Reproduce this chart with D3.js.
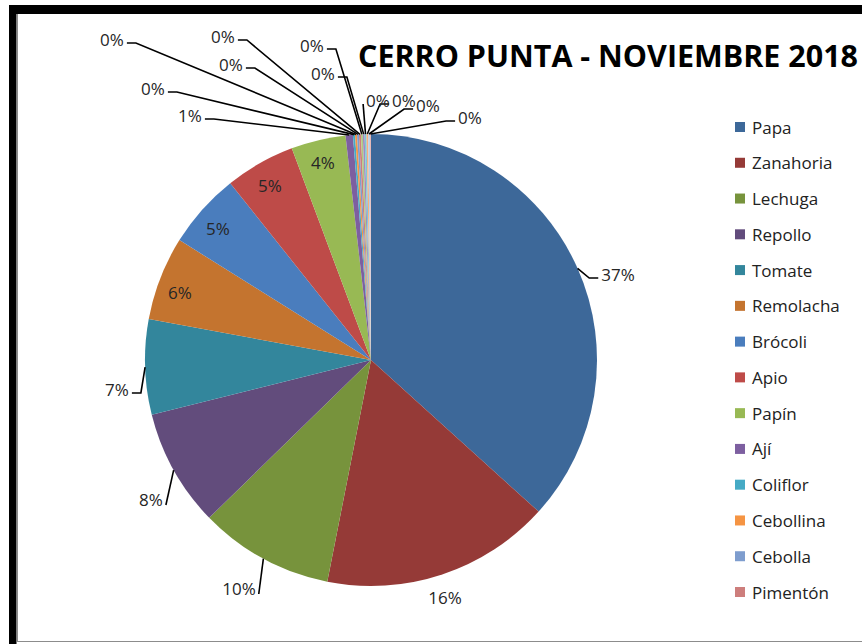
<!DOCTYPE html>
<html>
<head>
<meta charset="utf-8">
<script src="https://cdn.jsdelivr.net/npm/d3@7"></script>
<style>
  html, body { margin: 0; padding: 0; background: #fff; }
  svg { display: block; }
</style>
</head>
<body>
<svg id="chart" width="862" height="644"></svg>
<script>
// ---- data ----
const title = "CERRO PUNTA - NOVIEMBRE 2018";
// The reference legend is truncated after "Pimentón"; the remaining six tiny slices are unnamed there.
const categories = ["Papa", "Zanahoria", "Lechuga", "Repollo", "Tomate", "Remolacha", "Brócoli",
  "Apio", "Papín", "Ají", "Coliflor", "Cebollina", "Cebolla", "Pimentón",
  "Otro 1", "Otro 2", "Otro 3", "Otro 4", "Otro 5", "Otro 6"];
const values = [36.7, 16.4, 9.6, 8.4, 6.8, 6.0, 5.4, 5.0, 3.9, 0.52,
  0.15, 0.14, 0.14, 0.14, 0.13, 0.13, 0.13, 0.12, 0.12, 0.08];
const legendCount = 14; // entries visible in the reference legend

// ---- styles / layout ----
const colors = ["#3D6899", "#953A37", "#77933C", "#624C7C", "#33869C", "#C4742F", "#4A7DBD",
  "#BE4B48", "#98B954", "#7D5FA0", "#46AAC5", "#F59443", "#7E9DCE", "#CD7E7C",
  "#B0C97F", "#A08DC0", "#7EC6D9", "#F9B07C", "#B9CDE5", "#E6B9B8"];
// label centre offsets from pie centre (Excel's hand-spread labels)
const labelOffsets = [[247,-86],[74,237],[-132,228],[-220,139],[-254,29],[-191,-68],[-153,-132],
  [-101,-175],[-48,-198],[-181,-245],[-218,-272],[-259,-321],[-140,-296],[-148,-324],
  [-59,-315],[-48,-287],[7,-260],[33,-260],[57,-255],[99,-243]];
const leaderKinds = ["elbow","none","direct","direct","elbow","none","none","none","none","elbow",
  "elbow","elbow","elbow","elbow","elbow","elbow","direct","elbow","elbow","elbow"];

const W = 862, H = 644;
const cx = 371, cy = 360, R = 226;
const svg = d3.select("#chart");
const fontFam = "'Open Sans', 'DejaVu Sans', sans-serif";

// background + frame
svg.append("rect").attr("width", W).attr("height", H).attr("fill", "#fff");
svg.append("line").attr("x1", 17.5).attr("x2", 17.5).attr("y1", 14).attr("y2", 642)
  .attr("stroke", "#8c8c8c").attr("stroke-width", 1);
svg.append("line").attr("x1", 17).attr("x2", W).attr("y1", 641.5).attr("y2", 641.5)
  .attr("stroke", "#8c8c8c").attr("stroke-width", 1);
svg.append("rect").attr("x", 9).attr("y", 5).attr("width", W - 9).attr("height", 9).attr("fill", "#000");
svg.append("rect").attr("x", 9).attr("y", 5).attr("width", 7.5).attr("height", H - 5).attr("fill", "#000");

const data = categories.map((c, i) => ({ name: c, value: values[i], color: colors[i], i }));
const total = d3.sum(values);
const pct = d3.format(".0%");

const pie = d3.pie().sort(null).value(d => d.value).startAngle(0).endAngle(2 * Math.PI);
const arcs = pie(data);
const arc = d3.arc().innerRadius(0).outerRadius(R);
const edge = d3.arc().innerRadius(R).outerRadius(R);

const g = svg.append("g").attr("transform", `translate(${cx},${cy})`);
g.selectAll("path.slice").data(arcs).join("path")
  .attr("class", "slice")
  .attr("d", arc)
  .attr("fill", d => d.data.color);

// labels
const lg = g.append("g");
arcs.forEach((a, i) => {
  const [lx, ly] = labelOffsets[i];
  const t = lg.append("text")
    .attr("x", lx).attr("y", ly)
    .attr("text-anchor", "middle")
    .attr("dominant-baseline", "central")
    .attr("font-family", fontFam)
    .attr("font-size", 17)
    .attr("fill", "#262626")
    .text(pct(a.data.value / total));
  const w = t.node().getComputedTextLength();
  const kind = leaderKinds[i];
  if (kind === "none") return;
  const [px, py] = edge.centroid(a);
  const right = px > lx; // point is to the right of label
  const sx = right ? lx + w / 2 + 3 : lx - w / 2 - 3;
  let pts;
  if (kind === "elbow") {
    const sy = ly + 4;
    const ex = right ? sx + 9 : sx - 9;
    pts = [[sx, sy], [ex, sy], [px, py]];
  } else {
    const sy = ly + (py > ly ? 4 : 6);
    pts = [[sx, sy], [px, py]];
  }
  lg.insert("path", "text")
    .attr("d", d3.line()(pts))
    .attr("fill", "none")
    .attr("stroke", "#000")
    .attr("stroke-width", 1.6);
});

// title
svg.append("text")
  .attr("x", 358).attr("y", 67)
  .attr("font-family", fontFam)
  .attr("font-weight", "bold")
  .attr("font-size", 30)
  .attr("fill", "#000")
  .attr("textLength", 500)
  .attr("lengthAdjust", "spacingAndGlyphs")
  .text(title);

// legend
const legendY = d3.scalePoint().domain(categories.slice(0, legendCount)).range([127, 592]);
const leg = svg.append("g");
const items = leg.selectAll("g").data(data.slice(0, legendCount)).join("g")
  .attr("transform", d => `translate(735,${legendY(d.name)})`);
items.append("rect").attr("x", 0).attr("y", -5).attr("width", 10).attr("height", 10)
  .attr("fill", d => d.color);
items.append("text").attr("x", 17).attr("y", 0)
  .attr("dominant-baseline", "central")
  .attr("font-family", fontFam)
  .attr("font-size", 17)
  .attr("fill", "#222")
  .text(d => d.name);
</script>
</body>
</html>
